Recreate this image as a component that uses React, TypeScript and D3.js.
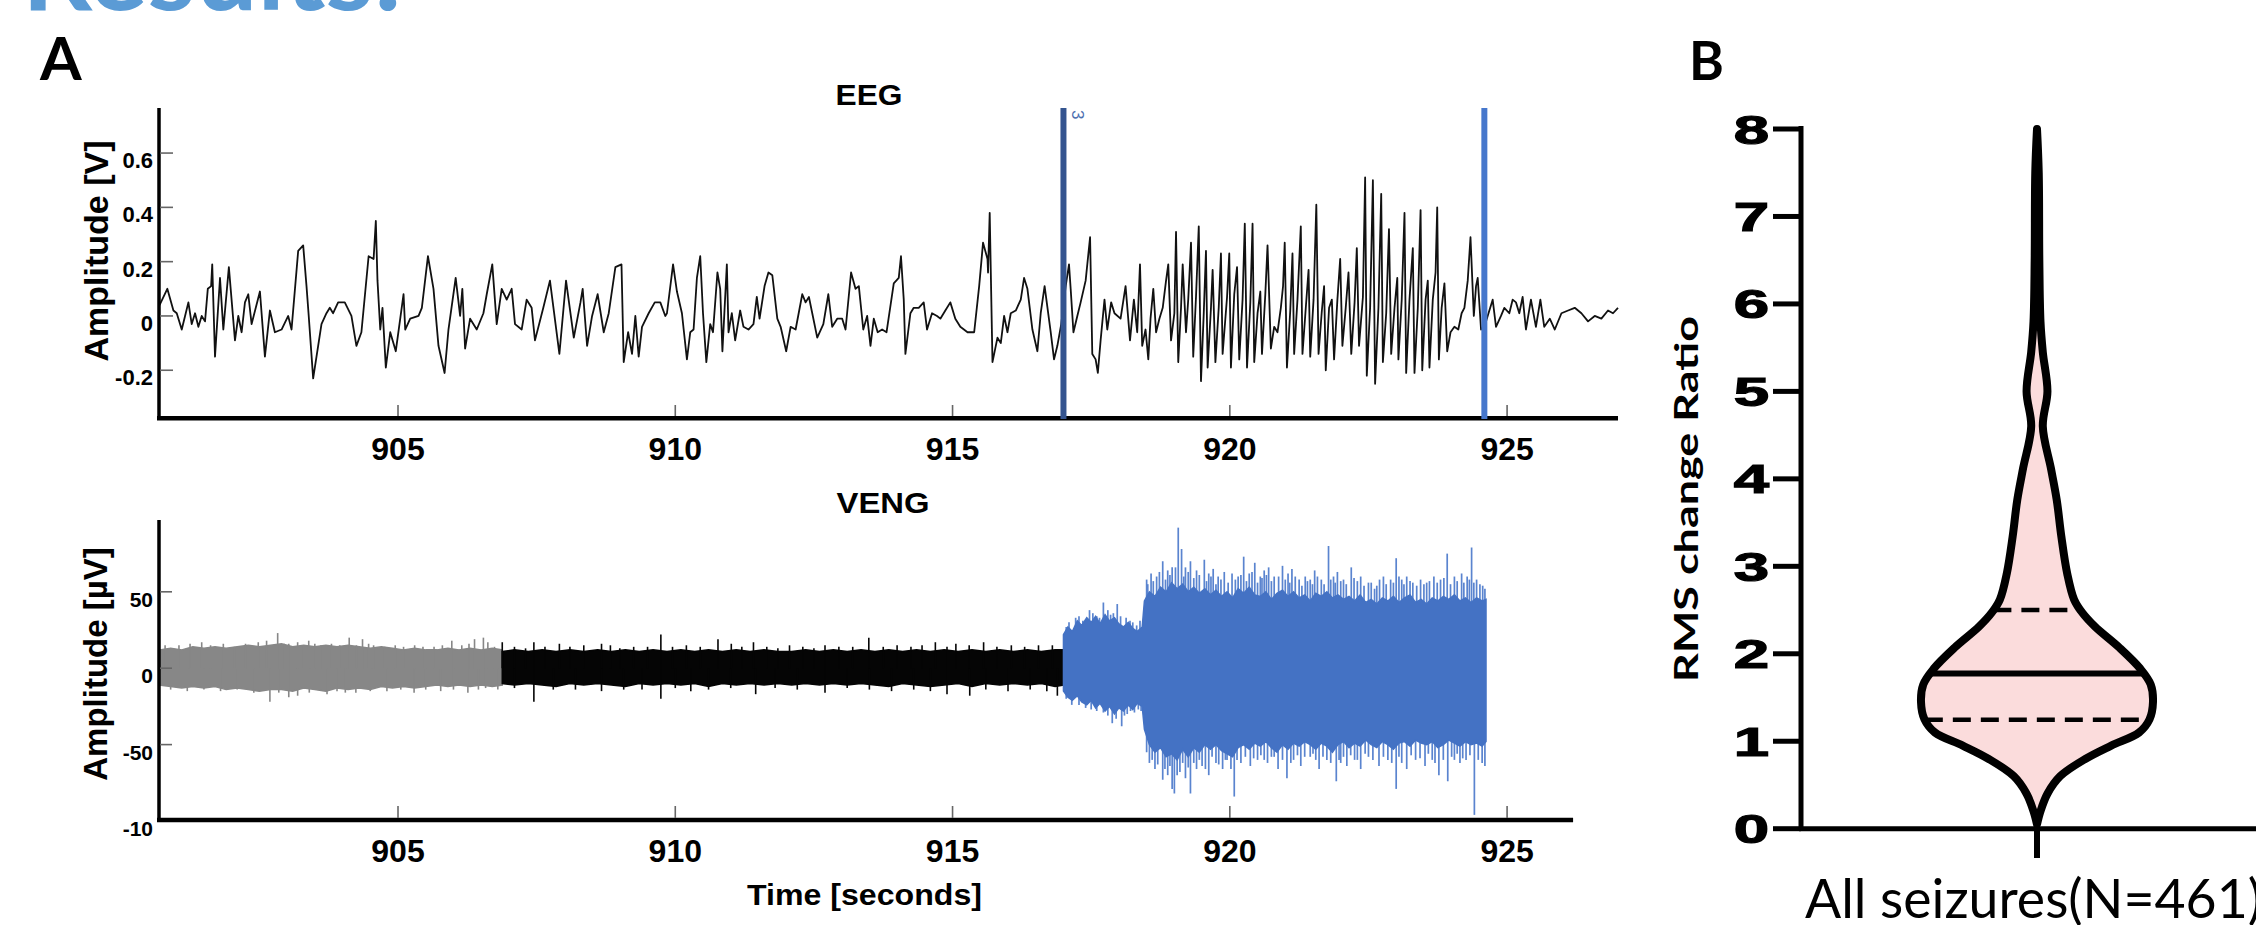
import React, { useEffect } from 'react';
import * as d3 from 'd3';

const W = 2256;
const H = 925;

// ---------- Panel A: EEG ----------
const eegTrace: [number, number][] = [
  [900.70,0.04],[900.84,0.10],[900.95,0.02],[901.01,0.01],[901.10,-0.05],[901.16,0.00],[901.22,0.05],[901.28,-0.03],[901.34,0.01],[901.40,-0.04],[901.46,0.00],[901.52,-0.02],[901.57,0.10],[901.63,0.11],[901.65,0.19],[901.70,-0.15],[901.79,0.14],[901.85,-0.05],[901.95,0.18],[902.06,-0.09],[902.12,0.00],[902.18,-0.06],[902.24,0.05],[902.30,0.08],[902.36,-0.03],[902.51,0.09],[902.60,-0.15],[902.69,0.02],[902.78,-0.06],[902.90,-0.05],[903.02,0.00],[903.08,-0.05],[903.20,0.24],[903.29,0.26],[903.35,0.11],[903.39,0.00],[903.47,-0.23],[903.56,-0.11],[903.62,-0.03],[903.71,0.01],[903.77,0.03],[903.83,0.01],[903.92,0.05],[904.04,0.05],[904.16,0.00],[904.25,-0.11],[904.34,-0.06],[904.47,0.22],[904.56,0.21],[904.60,0.35],[904.63,0.13],[904.68,-0.05],[904.72,0.03],[904.78,-0.19],[904.86,-0.06],[904.96,-0.13],[905.04,-0.01],[905.10,0.08],[905.13,-0.05],[905.22,-0.01],[905.37,0.00],[905.43,0.03],[905.54,0.22],[905.64,0.10],[905.73,-0.11],[905.84,-0.21],[905.91,-0.05],[906.04,0.14],[906.12,0.00],[906.16,0.10],[906.21,-0.12],[906.30,-0.01],[906.42,-0.05],[906.54,0.01],[906.60,0.08],[906.70,0.19],[906.78,-0.03],[906.87,0.10],[906.96,0.06],[907.05,0.10],[907.11,-0.03],[907.23,-0.05],[907.32,0.06],[907.41,0.03],[907.47,-0.09],[907.62,0.03],[907.74,0.13],[907.91,-0.14],[908.03,0.13],[908.17,-0.08],[908.29,0.05],[908.33,0.10],[908.41,-0.11],[908.50,0.00],[908.60,0.08],[908.71,-0.06],[908.80,0.01],[908.92,0.18],[909.03,0.19],[909.07,-0.17],[909.15,-0.06],[909.22,-0.14],[909.28,0.00],[909.34,-0.15],[909.40,-0.04],[909.52,0.01],[909.63,0.05],
  [909.73,0.05],[909.82,0.00],[909.85,0.01],[909.96,0.19],[910.03,0.09],[910.12,0.01],[910.21,-0.16],[910.27,-0.06],[910.33,-0.05],[910.39,0.14],[910.45,0.22],[910.50,0.01],[910.56,-0.17],[910.63,-0.03],[910.68,-0.06],[910.76,0.16],[910.81,0.10],[910.85,-0.13],[910.93,0.19],[910.96,-0.06],[911.02,0.01],[911.08,-0.09],[911.17,0.02],[911.23,-0.04],[911.32,-0.05],[911.41,-0.03],[911.47,0.07],[911.52,-0.01],[911.61,0.11],[911.68,0.16],[911.75,0.15],[911.84,-0.01],[911.90,-0.04],[912.00,-0.13],[912.08,-0.04],[912.17,-0.05],[912.29,0.08],[912.35,0.05],[912.41,0.07],[912.47,0.01],[912.56,-0.08],[912.67,-0.03],[912.76,0.08],[912.83,-0.04],[912.92,-0.01],[913.01,-0.01],[913.07,-0.05],[913.17,0.16],[913.25,0.10],[913.31,0.11],[913.39,-0.05],[913.46,0.00],[913.52,-0.11],[913.58,-0.01],[913.65,-0.06],[913.73,-0.05],[913.81,-0.06],[913.94,0.12],[914.03,0.14],[914.07,0.22],[914.12,0.06],[914.15,-0.14],[914.24,0.01],[914.30,0.03],[914.39,0.03],[914.48,0.05],[914.54,-0.05],[914.63,0.01],[914.72,0.00],[914.78,-0.01],[914.87,0.02],[914.96,0.05],[915.05,-0.01],[915.14,-0.04],[915.27,-0.06],[915.39,-0.06],[915.48,0.11],[915.55,0.27],[915.63,0.21],[915.64,0.16],[915.67,0.38],[915.72,-0.17],[915.81,-0.08],[915.87,-0.10],[915.93,0.00],[915.99,-0.06],[916.05,0.01],[916.14,0.02],[916.23,0.06],[916.29,0.14],[916.35,0.10],[916.44,-0.05],[916.53,-0.13],[916.59,0.01],[916.66,0.11],[916.77,-0.06],[916.83,-0.16],[916.89,-0.11],[916.96,-0.03],[917.04,0.11],[917.10,0.19],[917.13,0.10],[917.18,-0.06],[917.25,0.00],[917.31,0.05],[917.40,0.13],[917.48,0.29],[917.52,-0.14],[917.58,-0.16],[917.62,-0.21],[917.67,-0.09],[917.74,0.06],[917.79,-0.05],[917.86,0.05],[917.92,0.01],
  [918.03,-0.01],[918.12,0.11],[918.20,-0.09],[918.27,0.06],[918.33,-0.06],[918.38,0.19],[918.42,-0.11],[918.48,-0.05],[918.53,-0.16],[918.57,-0.01],[918.62,0.10],[918.67,-0.06],[918.73,-0.01],[918.79,0.03],[918.85,0.13],[918.89,0.19],[918.94,-0.09],[919.00,0.01],[919.03,0.31],[919.07,-0.17],[919.12,0.03],[919.15,0.19],[919.21,-0.06],[919.25,0.06],[919.30,0.27],[919.34,-0.15],[919.39,0.07],[919.44,0.33],[919.48,-0.24],[919.53,0.01],[919.57,0.24],[919.60,-0.19],[919.66,0.03],[919.69,0.17],[919.74,-0.17],[919.80,0.03],[919.84,0.23],[919.87,-0.14],[919.95,0.07],[919.99,0.23],[920.02,-0.19],[920.08,0.08],[920.13,0.18],[920.17,-0.16],[920.23,0.06],[920.27,0.34],[920.31,-0.19],[920.37,0.05],[920.41,0.34],[920.44,-0.17],[920.50,0.01],[920.55,0.09],[920.58,-0.14],[920.64,0.08],[920.68,0.26],[920.74,-0.12],[920.80,-0.04],[920.86,-0.06],[920.92,0.03],[920.96,0.11],[920.99,0.27],[921.03,-0.19],[921.09,0.02],[921.13,0.23],[921.16,-0.14],[921.22,0.06],[921.28,0.33],[921.31,-0.14],[921.37,0.03],[921.42,0.17],[921.45,-0.15],[921.51,0.06],[921.56,0.41],[921.60,-0.14],[921.66,0.02],[921.70,0.11],[921.73,-0.20],[921.79,0.03],[921.84,0.06],[921.88,-0.16],[921.94,0.06],[921.99,0.21],[922.03,-0.11],[922.09,0.03],[922.14,0.16],[922.19,-0.14],[922.25,0.05],[922.29,0.25],[922.33,-0.11],[922.40,0.07],[922.44,0.51],[922.47,-0.22],[922.53,0.03],[922.58,0.50],[922.62,-0.25],[922.68,0.03],[922.73,0.45],[922.76,-0.17],[922.82,0.01],[922.87,0.32],[922.91,-0.14],[922.97,0.03],[923.02,0.14],[923.04,-0.16],[923.10,0.06],[923.15,0.38],[923.18,-0.21],[923.24,0.06],[923.30,0.25],[923.33,-0.21],[923.39,0.03],[923.44,0.39],[923.47,-0.20],[923.53,0.06],[923.57,0.13],[923.60,-0.19],[923.66,0.06],[923.71,0.16],[923.74,0.40],[923.77,-0.16],[923.82,0.03],[923.87,0.12],[923.92,-0.13],[923.98,-0.06],[924.05,-0.04],[924.12,-0.05],[924.18,0.01],[924.23,0.03],[924.29,0.13],[924.34,0.29],[924.40,0.00],[924.44,0.11],[924.47,0.14],[924.53,-0.05],[924.59,-0.04],[924.65,0.00],[924.74,0.06],[924.80,-0.04],[924.89,0.00],[924.95,0.03],[925.04,0.01],[925.10,0.06],[925.16,0.05],[925.22,0.01],[925.28,0.07],[925.34,-0.05],[925.43,0.06],[925.52,-0.04],[925.60,0.06],[925.67,-0.04],[925.77,-0.01],[925.86,-0.05],[925.98,0.01],[926.10,0.02],[926.22,0.03],[926.34,0.01],[926.46,-0.02],[926.58,0.00],[926.70,-0.01],[926.82,0.02],[926.91,0.01],[927.00,0.03]
];
const timeTicks = [905, 910, 915, 920, 925];
const eegYTicks = [0.6, 0.4, 0.2, 0, -0.2];
const eegYTickLabels = ['0.6', '0.4', '0.2', '0', '-0.2'];
const eegMarkers = [917.0, 924.59];
const eegMarkerLabel = '3';

// ---------- Panel A: VENG ----------
const vengYTicks = [50, 0, -50, -100];
const vengYTickLabels = ['50', '0', '-50', '-10'];
// [time, upper core, lower core]
const vengGrayEnv: [number, number, number][] = [
  [900.70,12,-11],[900.9,13,-12],[901.1,12,-13],[901.3,14,-12],[901.5,13,-13],[901.7,14,-12],[901.9,13,-14],[902.1,14,-13],[902.3,15,-14],[902.5,14,-15],[902.7,15,-14],[902.9,16,-14],[903.1,14,-15],[903.3,15,-13],[903.5,14,-14],[903.7,15,-15],[903.9,14,-13],[904.1,15,-14],[904.3,14,-13],[904.5,13,-14],[904.7,14,-12],[904.9,13,-13],[905.1,12,-12],[905.3,13,-13],[905.5,12,-12],[905.7,12,-11],[905.9,13,-12],[906.1,12,-11],[906.3,13,-12],[906.5,12,-11],[906.7,13,-12],[906.88,12,-11]
];
const vengBlackEnv: [number, number, number][] = [
  [906.88,11,-10],[907.1,12,-11],[907.35,11,-10],[907.6,12,-11],[907.85,11,-12],[908.1,12,-10],[908.35,11,-11],[908.6,12,-10],[908.85,11,-11],[909.1,12,-12],[909.35,11,-10],[909.6,12,-11],[909.85,11,-10],[910.1,12,-11],[910.35,11,-10],[910.6,12,-12],[910.85,11,-10],[911.1,12,-11],[911.35,11,-10],[911.6,12,-11],[911.85,11,-10],[912.1,11,-11],[912.35,12,-10],[912.6,11,-11],[912.85,12,-10],[913.1,11,-11],[913.35,12,-10],[913.6,11,-11],[913.85,12,-12],[914.1,11,-10],[914.35,12,-11],[914.6,11,-12],[914.85,12,-11],[915.1,11,-10],[915.35,12,-12],[915.6,11,-10],[915.85,12,-11],[916.1,11,-10],[916.35,12,-11],[916.6,11,-10],[916.85,12,-12],[917.0,12,-11]
];
const vengBlueEnv: [number, number, number][] = [
  [917.00,22,-15],[917.08,27,-19],[917.16,24,-21],[917.25,31,-18],[917.33,28,-22],[917.42,33,-24],[917.50,30,-21],[917.58,34,-26],[917.66,29,-23],[917.75,35,-28],[917.83,31,-25],[917.92,33,-30],[918.00,29,-26],[918.08,27,-28],[918.17,30,-24],[918.25,26,-27],[918.33,24,-23],[918.42,27,-25],
  [918.46,44,-40],[918.55,50,-50],[918.65,47,-55],[918.75,53,-52],[918.85,50,-58],[918.95,56,-56],[919.05,52,-60],[919.15,55,-53],[919.25,50,-58],[919.35,53,-52],[919.45,49,-55],[919.55,52,-50],[919.65,48,-53],[919.75,51,-50],[919.85,47,-54],[919.95,50,-56],[920.05,46,-58],[920.15,52,-52],[920.25,49,-50],[920.35,53,-53],[920.45,48,-49],[920.55,47,-51],[920.65,50,-48],[920.75,45,-52],[920.85,49,-55],[920.95,51,-50],[921.05,47,-53],[921.15,50,-49],[921.25,46,-51],[921.35,48,-48],[921.45,44,-50],[921.55,49,-53],[921.65,47,-49],[921.75,50,-51],[921.85,46,-55],[921.95,48,-50],[922.05,45,-48],[922.15,47,-52],[922.25,44,-49],[922.35,48,-51],[922.45,43,-47],[922.55,45,-50],[922.65,42,-52],[922.75,46,-48],[922.85,44,-50],[922.95,47,-53],[923.05,43,-49],[923.15,46,-48],[923.25,48,-51],[923.35,43,-47],[923.45,45,-49],[923.55,42,-50],[923.65,46,-48],[923.75,44,-52],[923.85,47,-50],[923.95,45,-47],[924.05,48,-49],[924.15,44,-51],[924.25,46,-48],[924.35,43,-50],[924.45,46,-49],[924.55,44,-51],[924.62,45,-48]
];
const vengGraySpikes: [number, number][] = [
  [900.80,15],[901.05,15],[901.25,16],[901.46,17],[901.62,15],[901.85,16],[902.05,14],[902.25,16],[902.48,17],[902.63,18],[902.83,23],[902.95,16],[903.03,16],[903.19,17],[903.30,15],[903.39,18],[903.50,16],[903.61,15],[903.80,16],[903.95,15],[904.12,20],[904.25,15],[904.36,19],[904.47,16],[904.56,15],[904.76,14],[904.95,15],[905.10,14],[905.30,15],[905.45,14],[905.65,14],[905.80,15],[905.97,18],[906.15,15],[906.28,16],[906.38,19],[906.54,20],[906.62,17],[906.74,14],
  [900.90,-14],[901.20,-15],[901.50,-14],[901.80,-15],[902.10,-14],[902.40,-16],[902.69,-22],[902.85,-16],[903.03,-19],[903.19,-18],[903.40,-16],[903.72,-17],[903.90,-15],[904.05,-16],[904.24,-16],[904.50,-15],[904.80,-15],[905.05,-14],[905.29,-16],[905.50,-14],[905.77,-15],[906.00,-14],[906.26,-16],[906.45,-14],[906.58,-13],[906.80,-14]
];
const vengBlackSpikes: [number, number][] = [
  [906.88,17],[907.10,14],[907.30,13],[907.45,17],[907.65,14],[907.91,16],[908.10,14],[908.35,15],[908.67,16],[908.83,15],[909.00,13],[909.25,14],[909.50,14],[909.74,22],[909.95,14],[910.20,15],[910.45,14],[910.77,19],[911.01,16],[911.20,14],[911.41,17],[911.65,14],[911.85,13],[912.06,15],[912.30,14],[912.50,13],[912.70,15],[912.95,14],[913.20,14],[913.49,20],[913.75,14],[914.00,15],[914.25,14],[914.45,15],[914.69,17],[914.90,14],[915.06,16],[915.30,15],[915.56,17],[915.80,14],[916.06,15],[916.30,14],[916.55,15],[916.80,15],
  [907.10,-13],[907.45,-22],[907.80,-14],[908.20,-14],[908.67,-15],[909.07,-14],[909.40,-14],[909.74,-20],[910.00,-13],[910.28,-15],[910.60,-14],[911.00,-13],[911.45,-17],[911.80,-13],[912.20,-14],[912.70,-16],[913.10,-13],[913.50,-14],[913.90,-15],[914.30,-14],[914.60,-15],[914.90,-17],[915.31,-18],[915.60,-14],[916.00,-15],[916.40,-14],[916.70,-15],[916.89,-18]
];
const vengBlueSpikes: [number, number][] = [
  [917.05,27],[917.10,30],[917.22,33],[917.28,34],[917.35,31],[917.47,38],[917.53,36],[917.60,34],[917.65,33],[917.72,43],[917.80,38],[917.85,35],[917.90,36],[917.97,42],[918.03,34],[918.13,33],[918.20,31],[918.25,30],[918.32,28],[918.38,31],
  [918.50,58],[918.52,55],[918.58,62],[918.62,57],[918.68,60],[918.73,63],[918.79,70],[918.84,58],[918.88,64],[918.92,61],[918.96,66],[919.02,66],[919.07,92],[919.13,78],[919.17,60],[919.20,66],[919.25,63],[919.29,70],[919.35,59],[919.40,64],[919.45,61],[919.54,71],[919.58,57],[919.62,62],[919.66,60],[919.70,65],[919.75,55],[919.79,60],[919.84,58],[919.90,63],[919.97,56],[920.04,62],[920.10,58],[920.15,60],[920.20,61],[920.25,73],[920.30,57],[920.35,62],[920.40,63],[920.45,69],[920.50,56],[920.55,60],[920.58,59],[920.62,64],[920.66,61],[920.70,66],[920.75,57],[920.80,60],[920.88,60],[920.95,67],[921.00,58],[921.05,62],[921.08,56],[921.12,65],[921.18,60],[921.25,58],[921.30,54],[921.36,60],[921.40,57],[921.45,58],[921.49,55],[921.53,64],[921.58,60],[921.65,58],[921.70,55],[921.78,80],[921.82,58],[921.87,60],[921.90,56],[921.94,63],[922.00,57],[922.05,58],[922.10,55],[922.19,66],[922.24,59],[922.30,57],[922.36,60],[922.42,54],[922.50,56],[922.55,56],[922.61,52],[922.65,54],[922.70,58],[922.77,60],[922.82,55],[922.90,58],[922.95,56],[923.00,72],[923.05,60],[923.10,58],[923.14,55],[923.19,60],[923.25,57],[923.30,56],[923.37,54],[923.44,58],[923.50,55],[923.55,56],[923.60,57],[923.68,60],[923.74,56],[923.80,58],[923.86,59],[923.92,75],[923.98,55],[924.05,60],[924.10,57],[924.18,62],[924.22,56],[924.28,60],[924.32,58],[924.36,79],[924.40,56],[924.45,58],[924.51,55],[924.56,54],[924.60,52],
  [917.05,-20],[917.15,-24],[917.28,-24],[917.40,-26],[917.50,-27],[917.60,-28],[917.72,-29],[917.80,-31],[917.88,-36],[917.95,-33],[918.05,-38],[918.10,-31],[918.15,-30],[918.21,-28],[918.28,-29],[918.35,-27],[918.40,-28],
  [918.50,-55],[918.55,-62],[918.60,-60],[918.65,-66],[918.70,-63],[918.79,-73],[918.83,-66],[918.88,-70],[918.92,-64],[918.96,-79],[919.00,-82],[919.05,-70],[919.10,-68],[919.15,-62],[919.20,-72],[919.25,-65],[919.29,-82],[919.35,-62],[919.40,-66],[919.45,-60],[919.50,-64],[919.56,-66],[919.62,-70],[919.68,-58],[919.75,-62],[919.80,-63],[919.87,-66],[919.92,-60],[919.95,-60],[920.02,-66],[920.08,-84],[920.13,-60],[920.20,-62],[920.28,-58],[920.37,-64],[920.43,-59],[920.50,-60],[920.56,-57],[920.62,-60],[920.68,-62],[920.75,-58],[920.80,-58],[920.87,-66],[920.95,-60],[921.03,-72],[921.10,-62],[921.15,-60],[921.22,-57],[921.28,-64],[921.35,-58],[921.45,-58],[921.50,-56],[921.55,-60],[921.61,-66],[921.68,-58],[921.75,-60],[921.82,-62],[921.92,-74],[921.97,-60],[922.00,-62],[922.05,-58],[922.11,-64],[922.18,-57],[922.25,-60],[922.30,-60],[922.36,-66],[922.44,-56],[922.50,-58],[922.58,-60],[922.69,-64],[922.77,-58],[922.85,-60],[922.92,-62],[923.00,-79],[923.05,-58],[923.10,-62],[923.19,-66],[923.27,-57],[923.35,-60],[923.43,-59],[923.52,-64],[923.58,-56],[923.65,-60],[923.70,-62],[923.77,-70],[923.85,-60],[923.93,-74],[924.00,-58],[924.05,-60],[924.10,-56],[924.15,-62],[924.20,-59],[924.26,-60],[924.33,-57],[924.41,-96],[924.48,-60],[924.55,-62],[924.60,-64]
];

// ---------- Panel B: violin ----------
const violinLevels = [0.05, 0.2, 0.4, 0.6, 0.8, 0.95, 1.1, 1.25, 1.45, 1.65, 1.83, 2.07, 2.31, 2.47, 2.62, 2.92, 3.34, 3.76, 4.12, 4.6, 5.0, 5.45, 5.8, 6.5, 7.5, 8.0];
const violinDensity = [0, 0.03, 0.09, 0.2, 0.42, 0.64, 0.88, 0.97, 1.0, 0.98, 0.89, 0.71, 0.5, 0.39, 0.32, 0.26, 0.21, 0.17, 0.12, 0.05, 0.09, 0.05, 0.03, 0.02, 0.015, 0];
const violinQuartiles = [1.245, 2.5];
const violinMedian = [1.775];
const violinYTicks = [0, 1, 2, 3, 4, 5, 6, 7, 8];
const violinCategory = 'All seizures(N=461)';
const violinYLabel = 'RMS change Ratio';

const ARIAL = "'Liberation Sans', Arial, Helvetica, sans-serif";
const CAL = "Lato, 'Open Sans', sans-serif";

export default function App() {
  useEffect(() => {
    document.body.style.margin = '0';
    document.body.style.overflow = 'hidden';
  }, []);

  const xA = d3.scaleLinear().domain([900.69, 927.0]).range([159, 1618]);
  const yE = d3.scaleLinear().domain([-0.377, 0.766]).range([418.3, 108]);
  const yV = d3.scaleLinear().domain([-100, 97]).range([821, 520]);
  const vengEnd = 926.19;

  const eegLine = d3.line<[number, number]>().x(d => xA(d[0])).y(d => yE(d[1]));
  const envArea = d3.area<[number, number, number]>().x(d => xA(d[0])).y0(d => yV(d[2])).y1(d => yV(d[1]));

  const yB = d3.scaleLinear().domain([0, 8]).range([828.7, 129]);
  const cx = 2037;
  const wMax = 116;
  const dens = d3.scaleLinear().domain(violinLevels).range(violinDensity);
  const violinPts = violinLevels.map((v, i) => ({ v, w: violinDensity[i] * wMax }));
  const violinArea = d3.area<{ v: number; w: number }>()
    .y(d => yB(d.v)).x0(d => cx - d.w).x1(d => cx + d.w)
    .curve(d3.curveCatmullRom.alpha(0.5));

  const segColors = { gray: '#878787', black: '#050505', blue: '#4472c4', blueSpike: '#5a84cf' };

  const spikeLines = (arr: [number, number][], color: string, sw: number) =>
    arr.map((d, i) => (
      <line key={i} x1={xA(d[0])} x2={xA(d[0])} y1={yV(0)} y2={yV(d[1])} stroke={color} strokeWidth={sw} />
    ));

  return (
    <svg width={W} height={H} style={{ position: 'absolute', left: 0, top: 0, background: '#fff' }}>
      <rect x={0} y={0} width={W} height={H} fill="#fff" />
      <text x={22} y={10} fontFamily={CAL} fontWeight={700} fontSize={108} fill="#5b9bd5" textLength={380} lengthAdjust="spacingAndGlyphs">Results:</text>

      <text x={40} y={80} fontFamily={CAL} fontWeight={700} fontSize={60} fill="#000">A</text>
      <text x={1689} y={80} fontFamily={CAL} fontWeight={700} fontSize={53} fill="#000">B</text>

      {/* ===== EEG ===== */}
      <text x={869} y={105} fontFamily={ARIAL} fontWeight={700} fontSize={29} textAnchor="middle" textLength={67} lengthAdjust="spacingAndGlyphs">EEG</text>
      <path d={eegLine(eegTrace) || ''} fill="none" stroke="#111" strokeWidth={1.8} strokeLinejoin="round" />
      <line x1={159} x2={159} y1={108} y2={418} stroke="#000" strokeWidth={3.5} />
      <line x1={157} x2={xA(927.0)} y1={418.3} y2={418.3} stroke="#000" strokeWidth={4.5} />
      {eegYTicks.map((t, i) => (
        <g key={i}>
          <line x1={160} x2={173} y1={yE(t)} y2={yE(t)} stroke="#666" strokeWidth={1.6} />
          <text x={153} y={yE(t) + 15} fontFamily={ARIAL} fontWeight={700} fontSize={22} textAnchor="end">{eegYTickLabels[i]}</text>
        </g>
      ))}
      {timeTicks.map((t, i) => (
        <g key={i}>
          <line x1={xA(t)} x2={xA(t)} y1={416} y2={405} stroke="#666" strokeWidth={1.6} />
          <text x={xA(t)} y={460} fontFamily={ARIAL} fontWeight={700} fontSize={32} textAnchor="middle">{t}</text>
        </g>
      ))}
      <text transform="translate(108,251) rotate(-90)" fontFamily={ARIAL} fontWeight={700} fontSize={34} textAnchor="middle">Amplitude [V]</text>
      <line x1={xA(eegMarkers[0])} x2={xA(eegMarkers[0])} y1={108} y2={419} stroke="#34548f" strokeWidth={6} />
      <line x1={xA(eegMarkers[1])} x2={xA(eegMarkers[1])} y1={108} y2={419} stroke="#4677cc" strokeWidth={6} />
      <text transform={`translate(${xA(eegMarkers[0]) + 9},110) rotate(90)`} fontFamily={ARIAL} fontSize={17} fill="#4d6fb0">{eegMarkerLabel}</text>

      {/* ===== VENG ===== */}
      <text x={883} y={513} fontFamily={ARIAL} fontWeight={700} fontSize={30} textAnchor="middle" textLength={93} lengthAdjust="spacingAndGlyphs">VENG</text>
      <path d={envArea(vengGrayEnv) || ''} fill={segColors.gray} stroke={segColors.gray} strokeWidth={1.5} />
      {spikeLines(vengGraySpikes, segColors.gray, 1.6)}
      <path d={envArea(vengBlackEnv) || ''} fill={segColors.black} stroke={segColors.black} strokeWidth={1.5} />
      {spikeLines(vengBlackSpikes, segColors.black, 1.6)}
      {spikeLines(vengBlueSpikes, segColors.blueSpike, 1.7)}
      <path d={envArea(vengBlueEnv) || ''} fill={segColors.blue} stroke={segColors.blue} strokeWidth={1.5} />
      <line x1={159} x2={159} y1={520} y2={821} stroke="#000" strokeWidth={3.5} />
      <line x1={157} x2={xA(vengEnd)} y1={820} y2={820} stroke="#000" strokeWidth={4.5} />
      {vengYTicks.map((t, i) => (
        <g key={i}>
          {t > -100 && <line x1={160} x2={172} y1={yV(t)} y2={yV(t)} stroke="#666" strokeWidth={1.6} />}
          <text x={153} y={yV(t) + 15} fontFamily={ARIAL} fontWeight={700} fontSize={21} textAnchor="end">{vengYTickLabels[i]}</text>
        </g>
      ))}
      {timeTicks.map((t, i) => (
        <g key={i}>
          <line x1={xA(t)} x2={xA(t)} y1={818} y2={806} stroke="#666" strokeWidth={1.6} />
          <text x={xA(t)} y={862} fontFamily={ARIAL} fontWeight={700} fontSize={32} textAnchor="middle">{t}</text>
        </g>
      ))}
      <text x={747} y={905} fontFamily={ARIAL} fontWeight={700} fontSize={29} textLength={235} lengthAdjust="spacingAndGlyphs">Time [seconds]</text>
      <text transform="translate(107,664) rotate(-90)" fontFamily={ARIAL} fontWeight={700} fontSize={33} textAnchor="middle">Amplitude [µV]</text>

      {/* ===== Panel B: violin ===== */}
      <path d={violinArea(violinPts) || ''} fill="#fbdcdc" stroke="#000" strokeWidth={8} strokeLinejoin="round" />
      {violinMedian.map((q, i) => {
        const w = dens(q) * wMax;
        return <line key={i} x1={cx - w} x2={cx + w} y1={yB(q)} y2={yB(q)} stroke="#000" strokeWidth={6} />;
      })}
      {violinQuartiles.map((q, i) => {
        const w = dens(q) * wMax;
        return <line key={i} x1={cx - w} x2={cx + w} y1={yB(q)} y2={yB(q)} stroke="#000" strokeWidth={4.5} strokeDasharray="18 10" />;
      })}
      <line x1={1801} x2={1801} y1={126} y2={831} stroke="#000" strokeWidth={5} />
      <line x1={1799} x2={W} y1={yB(0)} y2={yB(0)} stroke="#000" strokeWidth={5} />
      <line x1={cx} x2={cx} y1={yB(0)} y2={858} stroke="#000" strokeWidth={6} />
      {violinYTicks.map((t, i) => (
        <g key={i}>
          <line x1={1773} x2={1801} y1={yB(t)} y2={yB(t)} stroke="#000" strokeWidth={5} />
          <text transform={`translate(1769,${yB(t) + 14.5}) scale(1.55,1)`} fontFamily={ARIAL} fontWeight={700} fontSize={41} textAnchor="end" stroke="#000" strokeWidth={1.2}>{t}</text>
        </g>
      ))}
      <text transform="translate(1698,499) rotate(-90)" fontFamily={CAL} fontWeight={700} fontSize={33} textAnchor="middle" textLength={366} lengthAdjust="spacingAndGlyphs">{violinYLabel}</text>
      <text x={1805} y={918} fontFamily={CAL} fontSize={55} textLength={457} lengthAdjust="spacingAndGlyphs">{violinCategory}</text>
    </svg>
  );
}
